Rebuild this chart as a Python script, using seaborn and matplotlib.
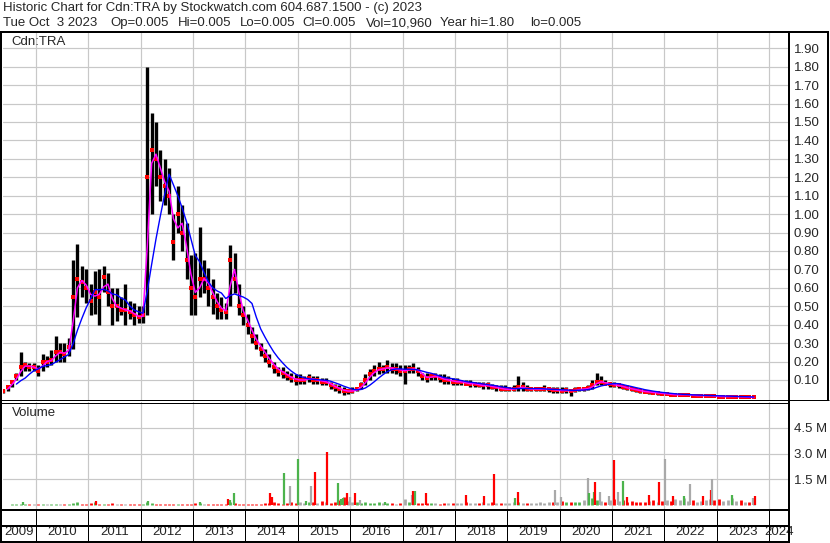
import numpy as np
import pandas as pd
import matplotlib.pyplot as plt
import seaborn as sns
from matplotlib.lines import Line2D

W, H = 830, 543

# monthly bars, May 2009 .. Sep 2023 (price in $)
close = [0.04, 0.06, 0.09, 0.12, 0.17, 0.18, 0.17, 0.17,
         0.15, 0.20, 0.20, 0.21, 0.25, 0.25, 0.24, 0.28, 0.55, 0.65, 0.63, 0.60,
         0.53, 0.58, 0.55, 0.66, 0.58, 0.50, 0.50, 0.48, 0.48, 0.47, 0.45, 0.44,
         0.45, 1.20, 1.35, 1.30, 1.20, 1.15, 1.10, 0.85, 1.00, 0.90, 0.75, 0.60,
         0.55, 0.65, 0.65, 0.60, 0.55, 0.50, 0.48, 0.47, 0.75, 0.65, 0.50, 0.45,
         0.40, 0.34, 0.30, 0.27, 0.23, 0.20, 0.17, 0.15, 0.14, 0.12, 0.11, 0.10,
         0.10, 0.10, 0.11, 0.10, 0.10, 0.09, 0.09, 0.07, 0.06, 0.05, 0.04, 0.04,
         0.04, 0.05, 0.07, 0.10, 0.13, 0.15, 0.16, 0.16, 0.17, 0.16, 0.16, 0.15,
         0.15, 0.16, 0.16, 0.15, 0.12, 0.11, 0.12, 0.12, 0.11, 0.10, 0.10, 0.09,
         0.09, 0.09, 0.08, 0.08, 0.08, 0.07, 0.07, 0.07, 0.06, 0.06, 0.05, 0.05,
         0.05, 0.05, 0.06, 0.06, 0.05, 0.05, 0.05, 0.05, 0.05, 0.05, 0.045, 0.045,
         0.04, 0.045, 0.04, 0.045, 0.05, 0.05, 0.055, 0.07, 0.09, 0.09, 0.08, 0.08,
         0.07, 0.07, 0.06, 0.055, 0.05, 0.045, 0.04, 0.035, 0.035, 0.03, 0.03, 0.025,
         0.025, 0.02, 0.02, 0.02, 0.02, 0.02, 0.015, 0.015, 0.015, 0.015, 0.015, 0.012,
         0.01, 0.01, 0.01, 0.01, 0.01, 0.008, 0.008, 0.005, 0.005]
high = [0.05, 0.07, 0.10, 0.14, 0.25, 0.20, 0.19, 0.19,
        0.18, 0.24, 0.23, 0.26, 0.34, 0.30, 0.30, 0.33, 0.75, 0.84, 0.72, 0.70,
        0.62, 0.69, 0.70, 0.72, 0.68, 0.60, 0.60, 0.55, 0.62, 0.53, 0.52, 0.50,
        0.50, 1.80, 1.55, 1.50, 1.35, 1.30, 1.25, 1.00, 1.15, 1.05, 0.95, 0.78,
        0.79, 0.93, 0.75, 0.71, 0.65, 0.57, 0.55, 0.52, 0.83, 0.79, 0.62, 0.50,
        0.46, 0.39, 0.35, 0.30, 0.27, 0.24, 0.20, 0.17, 0.17, 0.15, 0.14, 0.13,
        0.13, 0.12, 0.13, 0.12, 0.12, 0.11, 0.11, 0.09, 0.08, 0.07, 0.06, 0.05,
        0.06, 0.06, 0.09, 0.13, 0.16, 0.18, 0.20, 0.18, 0.21, 0.19, 0.19, 0.18,
        0.18, 0.18, 0.19, 0.17, 0.14, 0.14, 0.14, 0.14, 0.13, 0.13, 0.12, 0.11,
        0.11, 0.10, 0.10, 0.10, 0.09, 0.09, 0.09, 0.09, 0.08, 0.07, 0.07, 0.07,
        0.06, 0.07, 0.12, 0.09, 0.07, 0.06, 0.06, 0.06, 0.07, 0.06, 0.06, 0.06,
        0.06, 0.06, 0.05, 0.06, 0.06, 0.06, 0.07, 0.10, 0.14, 0.12, 0.10, 0.09,
        0.09, 0.08, 0.075, 0.07, 0.06, 0.055, 0.05, 0.045, 0.04, 0.04, 0.035, 0.035,
        0.03, 0.03, 0.025, 0.025, 0.025, 0.03, 0.02, 0.02, 0.02, 0.02, 0.02, 0.015,
        0.015, 0.015, 0.015, 0.012, 0.012, 0.01, 0.01, 0.01, 0.008]
low = [0.03, 0.04, 0.06, 0.10, 0.12, 0.15, 0.15, 0.15,
       0.12, 0.15, 0.17, 0.18, 0.20, 0.20, 0.20, 0.23, 0.27, 0.44, 0.55, 0.52,
       0.45, 0.46, 0.40, 0.58, 0.50, 0.40, 0.42, 0.45, 0.40, 0.43, 0.40, 0.41,
       0.41, 0.45, 1.00, 1.15, 1.07, 1.05, 1.00, 0.75, 0.90, 0.80, 0.65, 0.45,
       0.45, 0.55, 0.57, 0.50, 0.46, 0.43, 0.43, 0.43, 0.50, 0.57, 0.45, 0.40,
       0.35, 0.30, 0.27, 0.23, 0.20, 0.17, 0.14, 0.12, 0.11, 0.10, 0.09, 0.07,
       0.08, 0.08, 0.09, 0.08, 0.08, 0.07, 0.07, 0.05, 0.04, 0.03, 0.02, 0.025,
       0.03, 0.04, 0.05, 0.07, 0.10, 0.12, 0.13, 0.14, 0.14, 0.14, 0.13, 0.12,
       0.08, 0.14, 0.14, 0.12, 0.10, 0.09, 0.10, 0.10, 0.09, 0.08, 0.08, 0.07,
       0.07, 0.07, 0.07, 0.06, 0.06, 0.06, 0.05, 0.05, 0.05, 0.04, 0.04, 0.04,
       0.04, 0.04, 0.04, 0.04, 0.04, 0.04, 0.04, 0.04, 0.04, 0.035, 0.03, 0.03,
       0.03, 0.03, 0.013, 0.035, 0.04, 0.04, 0.045, 0.05, 0.07, 0.07, 0.07, 0.06,
       0.06, 0.055, 0.05, 0.045, 0.04, 0.035, 0.03, 0.03, 0.025, 0.025, 0.02, 0.02,
       0.02, 0.015, 0.015, 0.015, 0.015, 0.015, 0.01, 0.01, 0.01, 0.01, 0.01, 0.01,
       0.005, 0.005, 0.005, 0.005, 0.005, 0.005, 0.005, 0.005, 0.005]

# monthly baseline volume (millions)
base_vol = [0.03, 0.03, 0.04, 0.05, 0.08, 0.05, 0.04, 0.04,
            0.06, 0.05, 0.08, 0.06, 0.07, 0.05, 0.06, 0.05, 0.12, 0.15, 0.08, 0.06,
            0.10, 0.15, 0.08, 0.07, 0.06, 0.10, 0.05, 0.06, 0.07, 0.05, 0.05, 0.06,
            0.08, 0.18, 0.12, 0.08, 0.06, 0.05, 0.06, 0.05, 0.07, 0.05, 0.06, 0.08,
            0.10, 0.12, 0.07, 0.06, 0.05, 0.06, 0.05, 0.06, 0.15, 0.12, 0.08, 0.06,
            0.08, 0.06, 0.07, 0.08, 0.10, 0.12, 0.15, 0.10, 0.08, 0.12, 0.15, 0.10,
            0.15, 0.12, 0.20, 0.15, 0.12, 0.25, 0.15, 0.10, 0.20, 0.30, 0.45, 0.25,
            0.20, 0.15, 0.12, 0.15, 0.10, 0.12, 0.15, 0.10, 0.12, 0.10, 0.08, 0.12,
            0.35, 0.20, 0.15, 0.12, 0.10, 0.10, 0.12, 0.10, 0.08, 0.10, 0.12, 0.10,
            0.10, 0.12, 0.15, 0.10, 0.12, 0.10, 0.15, 0.10, 0.20, 0.10, 0.12, 0.10,
            0.10, 0.15, 0.20, 0.12, 0.10, 0.12, 0.10, 0.15, 0.12, 0.20, 0.15, 0.20,
            0.25, 0.15, 0.20, 0.15, 0.20, 0.30, 0.35, 0.40, 0.30, 0.25, 0.20, 0.30,
            0.35, 0.25, 0.30, 0.20, 0.25, 0.20, 0.15, 0.20, 0.25, 0.30, 0.20, 0.25,
            0.30, 0.25, 0.35, 0.30, 0.40, 0.25, 0.30, 0.20, 0.25, 0.30, 0.35, 0.30,
            0.35, 0.25, 0.30, 0.40, 0.25, 0.30, 0.20, 0.15, 0.20]

# large single-day volumes: date (year), millions, colour code
spike_t = [2009.75, 2011.15, 2012.14, 2013.13, 2013.67, 2013.71, 2013.78, 2014.47, 2014.51,
           2014.74, 2014.85, 2015.00, 2015.16, 2015.25, 2015.33, 2015.56, 2015.77, 2015.83,
           2015.87, 2015.94, 2016.00, 2016.09, 2016.19, 2016.67, 2017.18, 2017.20, 2017.24,
           2017.45, 2018.21, 2018.56, 2018.75, 2019.15, 2019.21, 2019.91, 2020.03, 2020.54,
           2020.56, 2020.66, 2020.68, 2020.77, 2020.94, 2021.04, 2021.12, 2021.21, 2021.29,
           2021.71, 2021.90, 2022.01, 2022.17, 2022.38, 2022.49, 2022.74, 2022.89, 2022.91,
           2023.29, 2023.69, 2023.73]
spike_v = [0.17, 0.23, 0.25, 0.20, 0.35, 0.30, 0.69, 0.69, 0.45,
           1.85, 1.10, 2.70, 0.25, 1.10, 1.90, 3.06, 1.27, 0.35,
           0.40, 0.70, 0.45, 0.69, 0.30, 0.20, 0.60, 0.80, 0.80,
           0.70, 0.60, 0.55, 1.80, 0.40, 0.75, 0.85, 0.45, 1.55,
           0.70, 0.75, 1.35, 0.75, 0.50, 2.60, 0.75, 1.40, 0.45,
           0.60, 1.35, 2.70, 0.50, 0.50, 1.20, 0.55, 0.90, 1.50,
           0.60, 0.40, 0.55]
spike_c = ("grggrggrrg" "nggnrrgggr" "nrngnrgrrr" "rgrnnnggrn"
           "nrngrrrnrg" "nrrngnr")

years = list(range(2009, 2025))
header1 = "Historic Chart for Cdn:TRA by Stockwatch.com 604.687.1500 - (c) 2023"
header2 = ["Tue Oct  3 2023", "Op=0.005", "Hi=0.005", "Lo=0.005", "Cl=0.005",
           "Vol=10,960", "Year hi=1.80", "lo=0.005"]
header2_x = [3, 110, 178, 240, 302, 366, 440, 530]

RED, GREEN, GRAY = "#ff0000", "#4cb34c", "#a9a9a9"
cmap = {"r": RED, "g": GREEN, "n": GRAY}

df = pd.DataFrame({"close": close, "high": high, "low": low, "vol": base_vol})
df["t"] = 2009 + 4 / 12 + np.arange(len(df)) / 12 + 1 / 24
df["ma_fast"] = df["close"].rolling(2).mean()
df["ma_slow"] = df["close"].rolling(6, min_periods=4).mean()
chg = df["close"].diff().fillna(0)
df["col"] = np.where(chg > 0, GREEN, np.where(chg < 0, RED, GRAY))

sns.set_style("white")
plt.rcParams["font.family"] = ["Liberation Sans", "DejaVu Sans"]

fig = plt.figure(figsize=(W / 100, H / 100), dpi=100)
x0, x1 = 2010 + (3 - 36) / 52.36, 2010 + (789 - 36) / 52.36
gridc = "#c8c8c8"
px = 0.72

ax_p = fig.add_axes([3 / W, 1 - 400 / H, 786 / W, 368 / H])
ax_v = fig.add_axes([3 / W, 1 - 509 / H, 786 / W, 107 / H])
ax_y = fig.add_axes([3 / W, 1 - 541 / H, 786 / W, 32 / H])

for ax in (ax_p, ax_v, ax_y):
    ax.set_xlim(x0, x1)
    for s in ax.spines.values():
        s.set_visible(False)
    ax.set_facecolor("white")
    ax.set_xticks(years[1:])
    ax.tick_params(axis="x", length=0, labelbottom=False)

# price panel
ticks = np.round(np.arange(0.1, 1.95, 0.1), 2)
ax_p.set_ylim(-0.0087, 1.988)
ax_p.set_yticks(ticks)
ax_p.set_yticklabels([f"{v:.2f}" for v in ticks])
ax_p.yaxis.tick_right()
ax_p.tick_params(axis="y", length=0, pad=3.5, labelsize=9.5)
ax_p.grid(True, color=gridc, lw=px * 1.2)
ax_p.set_axisbelow(True)
ax_p.vlines(df["t"], df["low"], df["high"], color="black", lw=2.4)
sns.scatterplot(x="t", y="close", data=df, ax=ax_p, marker="s", s=6,
                color=RED, linewidth=0, zorder=3)
sns.lineplot(x="t", y="ma_fast", data=df, ax=ax_p, color="#ff00ff", lw=1.1, zorder=4)
sns.lineplot(x="t", y="ma_slow", data=df, ax=ax_p, color="#0000ff", lw=1.0, zorder=4)
ax_p.set_xlabel("")
ax_p.set_ylabel("")
ax_p.text(8 / 786, 1 - 10 / 368, "Cdn:TRA", transform=ax_p.transAxes,
          fontsize=9.5, va="center", ha="left")

# volume panel
ax_v.set_ylim(-0.231, 6.0)
ax_v.set_yticks([1.5, 3.0, 4.5])
ax_v.set_yticklabels(["1.5 M", "3.0 M", "4.5 M"])
ax_v.yaxis.tick_right()
ax_v.tick_params(axis="y", length=0, pad=3.5, labelsize=9.5)
ax_v.grid(True, color=gridc, lw=px * 1.2)
ax_v.set_axisbelow(True)
ax_v.vlines(df["t"], 0, df["vol"], colors=df["col"], lw=2.0)
ax_v.vlines(spike_t, 0, spike_v, colors=[cmap[c] for c in spike_c], lw=1.6)
ax_v.text(9 / 786, 1 - 11 / 107, "Volume", transform=ax_v.transAxes,
          fontsize=9.5, va="center", ha="left")

# year strip
ax_y.set_ylim(0, 1)
ax_y.set_yticks([])
ax_y.vlines(years[1:], 0, 1, color="black", lw=px)
for yr in years:
    a, b = max(yr, x0), min(yr + 1, x1)
    ax_y.text((a + b) / 2, 0.27, str(yr), ha="center", va="center", fontsize=9.5)


# frame lines (pixel coordinates)
def fline(xa, ya, xb, yb, w):
    fig.add_artist(Line2D([xa / W, xb / W], [1 - ya / H, 1 - yb / H],
                          transform=fig.transFigure, color="black", lw=w * px,
                          solid_capstyle="butt"))


fline(0, 31.5, 829, 31.5, 2)
fline(1, 31, 1, 543, 2)
fline(789, 31, 789, 543, 2)
fline(828, 31, 828, 400, 2)
fline(0, 400, 829, 400, 1)
fline(0, 402.5, 789, 402.5, 1)
fline(0, 509.5, 789, 509.5, 2)
fline(0, 525.5, 789, 525.5, 2)
fline(0, 541.5, 789, 541.5, 2)

fig.text(3 / W, 1 - 8 / H, header1, fontsize=9.5, va="center", ha="left")
for s, x in zip(header2, header2_x):
    fig.text(x / W, 1 - 23 / H, s, fontsize=9.5, va="center", ha="left")

fig.savefig("out.png", dpi=100)
